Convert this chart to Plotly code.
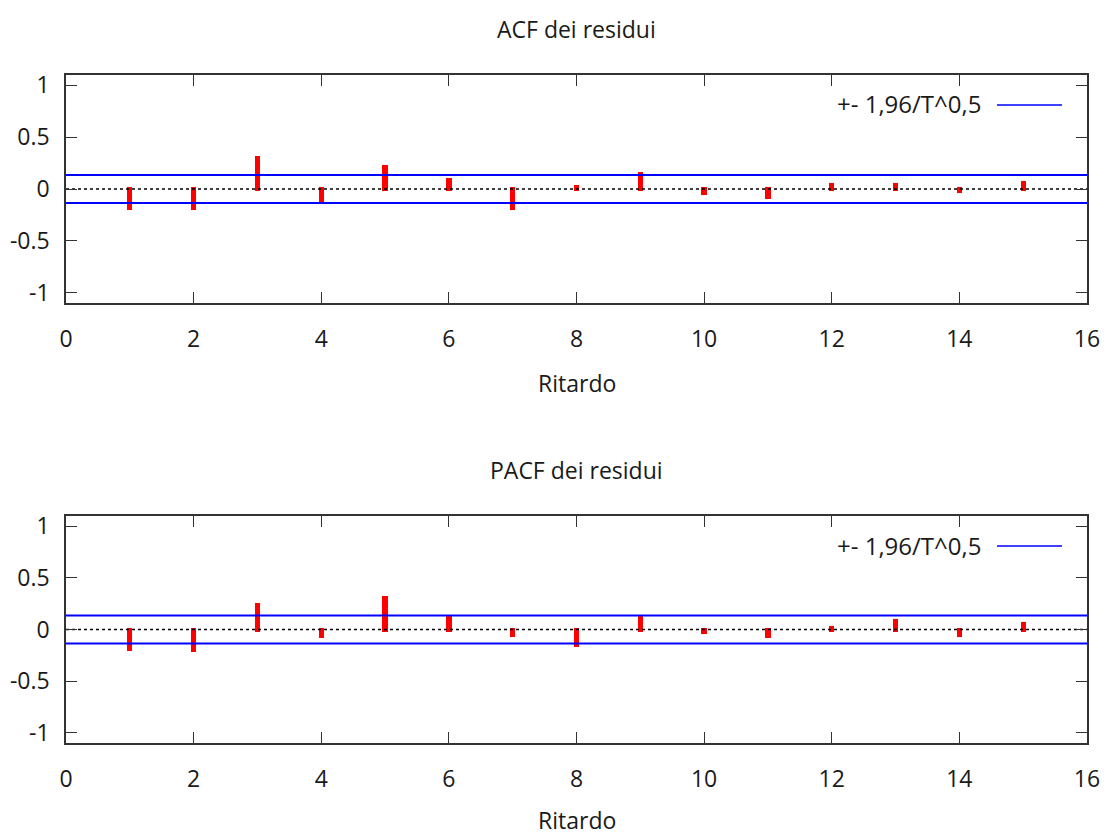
import numpy as np
import plotly.graph_objects as go

# ---------------- data ----------------
lags = list(range(1, 16))
acf_values = [-0.18, -0.18, 0.30, -0.115, 0.21, 0.085, -0.18, 0.02,
              0.145, -0.04, -0.075, 0.04, 0.04, -0.02, 0.06]
pacf_values = [-0.185, -0.20, 0.24, -0.065, 0.31, 0.11, -0.05, -0.15,
               0.11, -0.025, -0.065, 0.01, 0.085, -0.05, 0.05]
T_obs = 208
band = 1.96 / np.sqrt(T_obs)

x_range = [0, 16]
x_ticks = list(range(0, 17, 2))
y_ticks = [-1, -0.5, 0, 0.5, 1]
y_tick_text = ["-1", "-0.5", "0", "0.5", "1"]

titles = ["ACF dei residui", "PACF dei residui"]
x_title = "Ritardo"
legend_text = "+- 1,96/T^0,5"

# ---------------- style ----------------
W, H = 1108, 836
FONT = "Open Sans"
FS = 23
TXT = "#1a1a1a"
FRAME = "#333333"

panels = [
    dict(top=75, bottom=303, vals=acf_values, xtitle_y=383),
    dict(top=516, bottom=743, vals=pacf_values, xtitle_y=820),
]
x_left, x_right = 66, 1087

fig = go.Figure()
annotations = []
shapes = []

for i, p in enumerate(panels):
    xa = "x" if i == 0 else "x2"
    ya = "y" if i == 0 else "y2"
    # dotted zero axis
    fig.add_trace(go.Scatter(x=x_range, y=[0, 0], mode="lines",
                             line=dict(color="black", width=1.5, dash="3px,3px"),
                             xaxis=xa, yaxis=ya, hoverinfo="skip"))
    # impulses
    fig.add_trace(go.Bar(x=lags, y=p["vals"], width=0.02,
                         marker=dict(color="#ff0000", line=dict(color="#ff0000", width=4)),
                         xaxis=xa, yaxis=ya))
    # confidence band
    fig.add_trace(go.Scatter(x=[x_range[0], x_range[1], None, x_range[0], x_range[1]],
                             y=[band, band, None, -band, -band], mode="lines",
                             line=dict(color="#0000ff", width=2),
                             xaxis=xa, yaxis=ya, hoverinfo="skip"))

    ydom = [1 - p["bottom"] / H, 1 - p["top"] / H]
    axcommon = dict(showline=True, linecolor=FRAME, linewidth=1.5, mirror="allticks",
                    ticks="inside", ticklen=11, tickwidth=1, tickcolor=FRAME,
                    showgrid=False, zeroline=False, automargin=False,
                    tickfont=dict(family=FONT, size=FS, color=TXT))
    xkey = "xaxis" if i == 0 else "xaxis2"
    ykey = "yaxis" if i == 0 else "yaxis2"
    fig.update_layout(**{
        xkey: dict(domain=[x_left / W, x_right / W], range=x_range, tickvals=x_ticks,
                   anchor=ya, ticklabelstandoff=15, **axcommon),
        ykey: dict(domain=ydom, range=[-1.1, 1.1], tickvals=y_ticks, ticktext=y_tick_text,
                   anchor=xa, ticklabelstandoff=10, **axcommon),
    })

    off = p["top"] - panels[0]["top"]
    annotations.append(dict(text=titles[i], xref="paper", yref="paper",
                            x=(x_left + x_right) / 2 / W, y=1 - (29 + off) / H,
                            xanchor="center", yanchor="middle", showarrow=False,
                            font=dict(family=FONT, size=FS, color=TXT)))
    annotations.append(dict(text=x_title, xref="paper", yref="paper",
                            x=(x_left + x_right) / 2 / W, y=1 - p["xtitle_y"] / H,
                            xanchor="center", yanchor="middle", showarrow=False,
                            font=dict(family=FONT, size=FS, color=TXT)))
    annotations.append(dict(text=legend_text, xref="paper", yref="paper",
                            x=983 / W, y=1 - (104 + off) / H,
                            xanchor="right", yanchor="middle", showarrow=False,
                            font=dict(family=FONT, size=24, color=TXT)))
    shapes.append(dict(type="line", xref="paper", yref="paper",
                       x0=997 / W, x1=1062 / W, y0=1 - (105 + off) / H, y1=1 - (105 + off) / H,
                       line=dict(color="#0000ff", width=1.5)))

fig.update_layout(width=W, height=H, margin=dict(l=0, r=0, t=0, b=0, autoexpand=False),
                  paper_bgcolor="white", plot_bgcolor="white", showlegend=False,
                  bargap=0, annotations=annotations, shapes=shapes)

fig.write_html("out.html")
